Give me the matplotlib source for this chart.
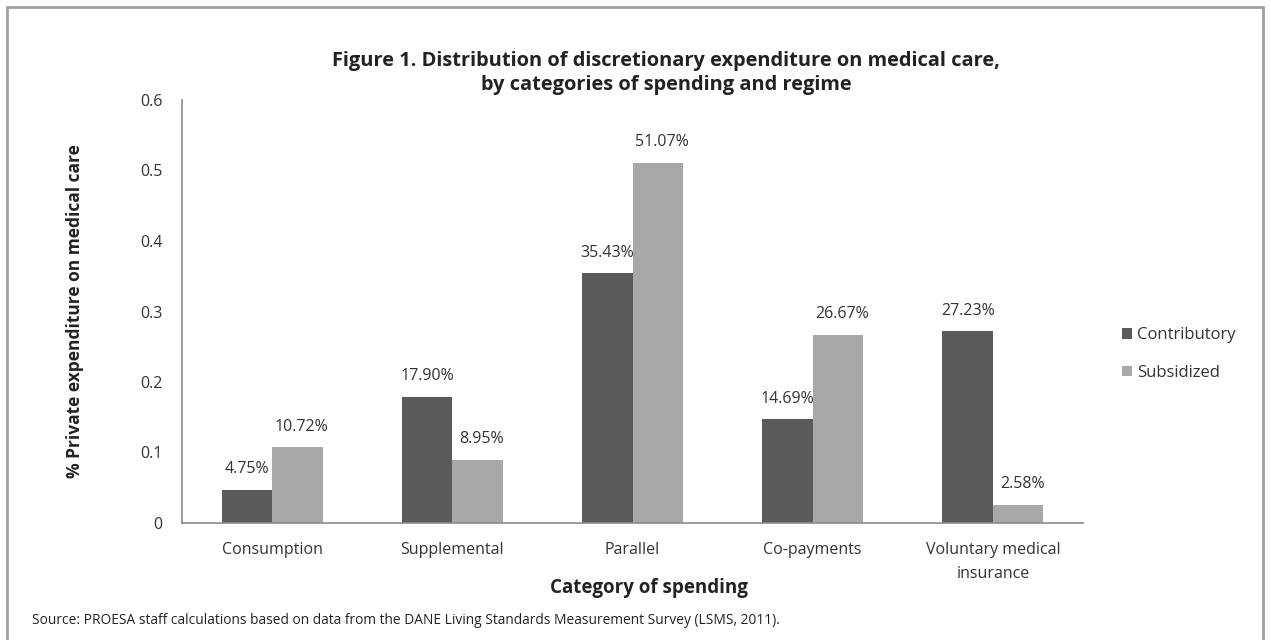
import matplotlib
matplotlib.use("Agg")
import matplotlib.pyplot as plt
from matplotlib.patches import Rectangle
import numpy as np

categories = ["Consumption", "Supplemental", "Parallel", "Co-payments", "Voluntary medical\ninsurance"]
contributory = [0.0475, 0.1790, 0.3543, 0.1469, 0.2723]
subsidized = [0.1072, 0.0895, 0.5107, 0.2667, 0.0258]
contrib_labels = ["4.75%", "17.90%", "35.43%", "14.69%", "27.23%"]
subsid_labels = ["10.72%", "8.95%", "51.07%", "26.67%", "2.58%"]
yticks = [0, 0.1, 0.2, 0.3, 0.4, 0.5, 0.6]
ytick_labels = ["0", "0.1", "0.2", "0.3", "0.4", "0.5", "0.6"]

plt.rcParams['font.family'] = ['Open Sans', 'DejaVu Sans']
W, H = 1271, 640
fig = plt.figure(figsize=(W/100, H/100), dpi=100)
fig.patch.set_facecolor("white")

ax = fig.add_axes([182/W, 1-523/H, (1083-182)/W, (523-100)/H])
dark = "#5a5a5a"
light = "#a8a8a8"
x = np.arange(len(categories))
bw = 0.28
b1 = ax.bar(x - bw/2, contributory, bw, color=dark, label="Contributory")
b2 = ax.bar(x + bw/2, subsidized, bw, color=light, label="Subsidized")

for xi, v, t in zip(x - bw/2, contributory, contrib_labels):
    ax.annotate(t, (xi, v), xytext=(0, 9), textcoords="offset points",
                ha="center", va="bottom", fontsize=11.5, color="#333333")
for xi, v, t in zip(x + bw/2, subsidized, subsid_labels):
    ax.annotate(t, (xi, v), xytext=(3, 9), textcoords="offset points",
                ha="center", va="bottom", fontsize=11.5, color="#333333")

ax.set_xlim(-0.5, len(categories) - 0.5)
ax.set_ylim(0, 0.6)
ax.set_yticks(yticks)
ax.set_yticklabels(ytick_labels)
ax.set_xticks(x)
ax.set_xticklabels(categories, linespacing=1.6)
ax.tick_params(axis="both", length=0, labelsize=11.5, colors="#333333")
ax.tick_params(axis="y", pad=14)
ax.tick_params(axis="x", pad=14)
for s in ["top", "right"]:
    ax.spines[s].set_visible(False)
for s in ["left", "bottom"]:
    ax.spines[s].set_color("#8a8a8a")
    ax.spines[s].set_linewidth(1.2)

ax.set_xlabel("Category of spending", fontsize=13.5, fontweight="bold", color="#222222", labelpad=-2)
ax.xaxis.set_label_coords((649-182)/(1083-182), -(578-523)/(523-100))
ax.set_ylabel("% Private expenditure on medical care", fontsize=12.5, fontweight="bold",
              color="#222222")
ax.yaxis.set_label_coords(-(182-84)/(1083-182), 0.5)

fig.text(666/W, 1-73/H, "Figure 1. Distribution of discretionary expenditure on medical care,\nby categories of spending and regime",
         ha="center", va="center", fontsize=14.4, fontweight="bold", color="#222222", linespacing=1.3)

leg = fig.legend(handles=[b1, b2], loc="center left", bbox_to_anchor=(1107/W, 1-354/H),
                 frameon=False, fontsize=12, handlelength=0.6, handleheight=0.6,
                 handletextpad=0.3, labelspacing=1.3, labelcolor="#333333")

fig.text(32/W, 1-621/H, "Source: PROESA staff calculations based on data from the DANE Living Standards Measurement Survey (LSMS, 2011).",
         ha="left", va="center", fontsize=9.9, color="#222222")

fig.patches.append(Rectangle((7/W, -0.05), (1263-7)/W, (H-7)/H + 0.05, transform=fig.transFigure,
                             fill=False, edgecolor="#a0a0a0", linewidth=2))

fig.savefig("out.png", dpi=100, facecolor="white")
